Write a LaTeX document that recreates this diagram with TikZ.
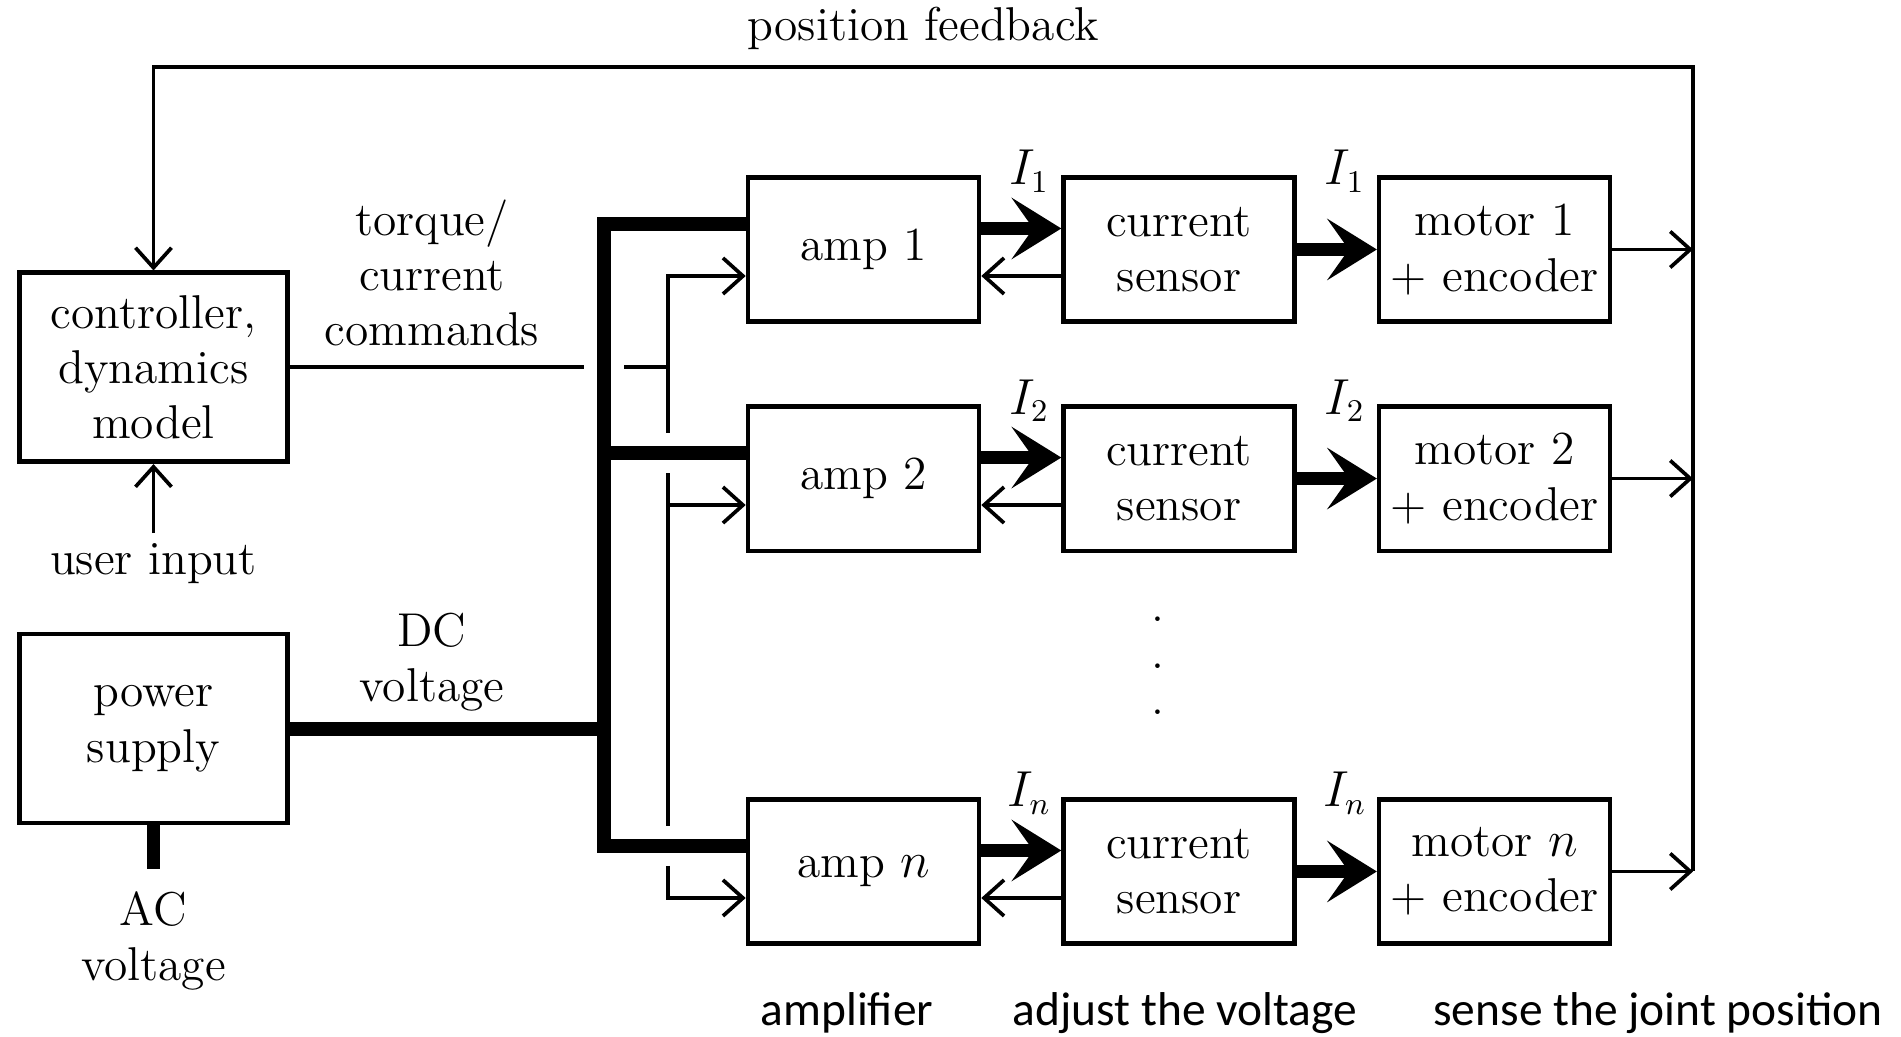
\documentclass[tikz,border=0pt]{standalone}
\usepackage{fontspec}
\newfontfamily\notefont{Carlito}
\usepackage{tikz}
\usetikzlibrary{arrows.meta,positioning,calc}

\begin{document}
\begin{tikzpicture}[node distance=8mm,
  font=\fontsize{13.5}{15.7}\selectfont,
  box/.style={draw,line width=1.3pt,align=center,minimum width=23.1mm,minimum height=14.45mm,inner sep=2pt},
  bigbox/.style={box,minimum width=26.8mm,minimum height=18.9mm},
  lbl/.style={align=center,inner sep=0pt},
  cur/.style={lbl,anchor=base,xshift=0.8mm,yshift=-1mm},
  note/.style={font=\notefont\fontsize{13.5}{16}\selectfont,inner sep=0pt,anchor=base},
  sig/.style={line width=1.05pt},
  arr/.style={sig,-{Straight Barb[length=2mm,width=3.6mm]}},
  pwr/.style={line width=3.9pt},
  parr/.style={pwr,-{Stealth[length=5mm,width=6.2mm,inset=2.2mm,line width=0pt]}}]
\useasboundingbox (0,0) rectangle (19.01,10.37);
\node[bigbox] (ctrl) at (1.535,6.697) {controller,\\dynamics\\model};
\node[bigbox] (psu) at (1.535,3.083) {power\\supply};
\node[box] (amp1) at (8.635,7.875) {amp 1};
\node[box,right=of amp1] (sen1) {current\\sensor};
\node[box,right=of sen1] (mot1) {motor 1\\+ encoder};
\node[box,below=of amp1] (amp2) {amp 2};
\node[box,right=of amp2] (sen2) {current\\sensor};
\node[box,right=of sen2] (mot2) {motor 2\\+ encoder};
\node[box] (ampn) at (8.635,1.655) {amp $n$};
\node[box,right=of ampn] (senn) {current\\sensor};
\node[box,right=of senn] (motn) {motor $n$\\+ encoder};
\node[lbl] (dots) at (11.58,3.71) {.\\[-2.5pt].\\[-2.5pt].};
\node[lbl,anchor=south] (cmdlbl) at (4.32,6.90) {torque/\\current\\commands};
\node[lbl,anchor=south] (dclbl) at (4.32,3.25) {DC\\voltage};
\node[lbl] (usr) at (1.535,4.73) {user input};
\node[lbl] (acv) at (1.535,0.96) {AC\\voltage};
\node[cur] (i1a) at ($(amp1.north east)!0.5!(sen1.north west)$) {$I_1$};
\node[cur] (i1b) at ($(sen1.north east)!0.5!(mot1.north west)$) {$I_1$};
\node[cur] (i2a) at ($(amp2.north east)!0.5!(sen2.north west)$) {$I_2$};
\node[cur] (i2b) at ($(sen2.north east)!0.5!(mot2.north west)$) {$I_2$};
\node[cur] (ina) at ($(ampn.north east)!0.5!(senn.north west)$) {$I_n$};
\node[cur] (inb) at ($(senn.north east)!0.5!(motn.north west)$) {$I_n$};
\node[note] (ampnote) at (8.47,0.11) {amplifier};
\node[note] (sennote) at (11.85,0.11) {adjust the voltage};
\node[note] (motnote) at (16.58,0.11) {sense the joint position};
\coordinate (bus) at (6.04,0);
\coordinate (cmd) at (6.68,0);
\coordinate (fb) at (16.93,9.70);
\coordinate (p1) at ([yshift=2.55mm]amp1.west);
\coordinate (p2) at ([yshift=2.55mm]amp2.west);
\coordinate (pn) at ([yshift=2.55mm]ampn.west);
\coordinate (q1) at ([yshift=-2.65mm]amp1.west);
\coordinate (q2) at ([yshift=-2.65mm]amp2.west);
\coordinate (qn) at ([yshift=-2.65mm]ampn.west);
\coordinate (hopL) at ($(ctrl -| bus)+(-0.2,0)$);
\coordinate (hopR) at ($(ctrl -| bus)+(0.2,0)$);
\coordinate (hop2a) at ($(p2 -| cmd)+(0,0.2)$);
\coordinate (hop2b) at ($(p2 -| cmd)+(0,-0.2)$);
\coordinate (hopna) at ($(pn -| cmd)+(0,0.2)$);
\coordinate (hopnb) at ($(pn -| cmd)+(0,-0.2)$);
\draw[pwr] (p1) -- (p1 -| bus) -- (pn -| bus) -- (pn);
\draw[pwr] (p2 -| bus) -- (p2);
\draw[pwr] (psu) -- (psu -| bus);
\draw[pwr] (psu) -- ([yshift=2.2mm]acv.north);
\draw[arr] ([yshift=1mm]usr.north) -- (ctrl);
\draw[sig] (ctrl) -- (hopL);
\draw[arr] (hopR) -- (ctrl -| cmd) |- (q1);
\draw[sig] (ctrl -| cmd) -- (hop2a);
\draw[arr] (hop2b) |- (q2);
\draw[sig] (q2 -| cmd) -- (hopna);
\draw[arr] (hopnb) |- (qn);
\draw[parr] ([yshift=2.1mm]amp1.east) -- ([yshift=2.1mm]sen1.west);
\draw[parr] ([yshift=2.1mm]amp2.east) -- ([yshift=2.1mm]sen2.west);
\draw[parr] ([yshift=2.1mm]ampn.east) -- ([yshift=2.1mm]senn.west);
\draw[arr] ([yshift=-2.65mm]sen1.west) -- ([yshift=-2.65mm]amp1.east);
\draw[arr] ([yshift=-2.65mm]sen2.west) -- ([yshift=-2.65mm]amp2.east);
\draw[arr] ([yshift=-2.65mm]senn.west) -- ([yshift=-2.65mm]ampn.east);
\draw[parr] (sen1) -- (mot1);
\draw[parr] (sen2) -- (mot2);
\draw[parr] (senn) -- (motn);
\draw[arr] (mot1) -- (mot1 -| fb);
\draw[arr] (mot2) -- (mot2 -| fb);
\draw[arr] (motn) -- (motn -| fb);
\draw[arr] (motn -| fb) -- (fb) -| node[above=0.4mm,pos=0.25] (fblbl) {position feedback} (ctrl);
\end{tikzpicture}
\end{document}
